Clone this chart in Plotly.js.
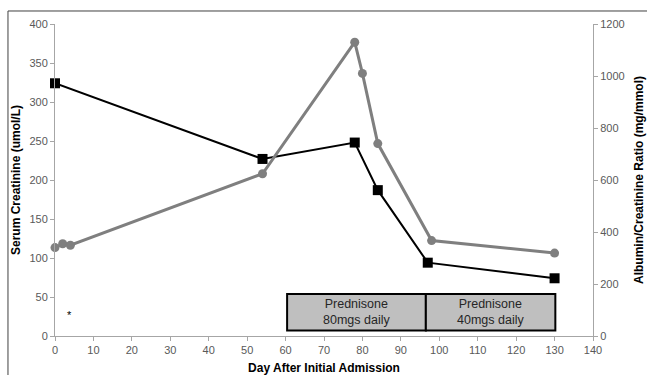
<!DOCTYPE html>
<html><head><meta charset="utf-8">
<script src="https://cdn.plot.ly/plotly-3.0.1.min.js"></script>
<style>html,body{margin:0;padding:0;background:#fff}#c{width:647px;height:375px}</style>
</head><body><div id="c"></div>
<script>
// Serum creatinine (left axis)
const creatDays = [0, 54, 78, 84, 97, 130];
const creatVals = [324, 227, 248, 187, 94, 74];
// Albumin/creatinine ratio (right axis)
const acrDays = [0, 2, 4, 54, 78, 80, 84, 98, 130];
const acrVals = [340, 355, 349, 624, 1130, 1010, 740, 367, 319];
// Treatment periods
const rxLabels = ["Prednisone<br>80mgs daily", "Prednisone<br>40mgs daily"];
const rxStart = [60.4, 96.5];
const rxEnd = [96.5, 130.2];
const rxLow = 7, rxHigh = 54;
const xTicks = [0,10,20,30,40,50,60,70,80,90,100,110,120,130,140];

const traces = [
  {x: acrDays, y: acrVals, yaxis: 'y2', mode: 'lines+markers', type: 'scatter',
   line: {color: '#7f7f7f', width: 3}, marker: {symbol: 'circle', size: 9, color: '#7f7f7f'},
   cliponaxis: false, hoverinfo: 'none'},
  {x: creatDays, y: creatVals, mode: 'lines+markers', type: 'scatter',
   line: {color: '#000000', width: 2}, marker: {symbol: 'square', size: 10, color: '#000000'},
   cliponaxis: false, hoverinfo: 'none'}
];

const shapes = [];
const annotations = [];
for (let i = 0; i < rxLabels.length; i++) {
  shapes.push({type: 'rect', xref: 'x', yref: 'y', x0: rxStart[i], x1: rxEnd[i], y0: rxLow, y1: rxHigh,
    fillcolor: '#bfbfbf', line: {color: '#000', width: 2}, layer: 'above'});
  annotations.push({xref: 'x', yref: 'y', x: (rxStart[i] + rxEnd[i]) / 2, y: (rxLow + rxHigh) / 2,
    text: rxLabels[i], showarrow: false, font: {family: 'Liberation Sans, Arial', size: 12.5, color: '#262626'}});
}
annotations.push({xref: 'x', yref: 'y', x: 3.9, y: 27, text: '*', showarrow: false,
  font: {family: 'Liberation Sans, Arial', size: 11, color: '#000'}});
// outer frame
shapes.push({type: 'rect', xref: 'paper', yref: 'paper', x0: -0.0874, x1: 1.2, y0: -0.3, y1: 1.0417,
  line: {color: '#404040', width: 1}, fillcolor: 'rgba(0,0,0,0)', layer: 'below'});

const tickFont = {family: 'Liberation Sans, Arial', size: 11, color: '#595959'};
const titleFont = {family: 'Liberation Sans, Arial', size: 12, color: '#000'};

const layout = {
  width: 647, height: 375,
  margin: {l: 55, r: 54, t: 24, b: 39},
  paper_bgcolor: '#fff', plot_bgcolor: '#fff',
  showlegend: false,
  xaxis: {range: [0, 140], tickvals: xTicks, ticktext: xTicks.map(String), showgrid: false, zeroline: false,
    showline: true, linecolor: '#a6a6a6', linewidth: 1, ticks: 'outside', ticklen: 4, tickcolor: '#a6a6a6',
    tickfont: tickFont, title: {text: '<b>Day After Initial Admission</b>', font: titleFont, standoff: 8}},
  yaxis: {range: [0, 400], dtick: 50, showgrid: false, zeroline: false,
    showline: true, linecolor: '#a6a6a6', linewidth: 1, ticks: 'outside', ticklen: 4, tickcolor: '#a6a6a6',
    tickfont: tickFont, title: {text: '<b>Serum Creatinine (umol/L)</b>', font: titleFont, standoff: 6}},
  yaxis2: {range: [0, 1200], dtick: 200, overlaying: 'y', side: 'right', showgrid: false, zeroline: false,
    showline: true, linecolor: '#a6a6a6', linewidth: 1, ticks: 'outside', ticklen: 4, tickcolor: '#a6a6a6',
    tickfont: tickFont, title: {text: '<b>Albumin/Creatinine Ratio (mg/mmol)</b>', font: titleFont, standoff: 10}},
  shapes: shapes,
  annotations: annotations
};

Plotly.newPlot('c', traces, layout, {displayModeBar: false, staticPlot: true});
</script></body></html>
